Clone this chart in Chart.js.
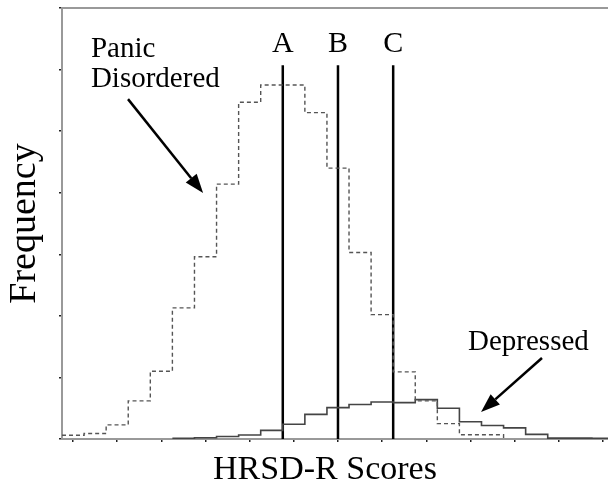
<!DOCTYPE html>
<html>
<head>
<meta charset="utf-8">
<script src="https://cdn.jsdelivr.net/npm/chart.js@4/dist/chart.umd.min.js"></script>
<style>
  html, body { margin: 0; padding: 0; background: #fff; }
  #wrap { width: 608px; height: 485px; position: relative; }
</style>
</head>
<body>
<div id="wrap"><canvas id="histChart"></canvas></div>
<script>
// HRSD-R score bins (bin centres), and the frequencies
const panicBins = [0, 1, 2, 3, 4, 5, 6, 7, 8, 9, 10, 11, 12, 13, 14, 15, 16, 17, 18, 19];
const panicFreq = [6, 9, 23, 62, 110, 213, 296, 414, 547, 575, 575, 530, 440, 303, 202, 109, 62, 25, 7, 7];

const depressedBins = [5, 6, 7, 8, 9, 10, 11, 12, 13, 14, 15, 16, 17, 18, 19, 20, 21, 22, 23, 24];
const depressedFreq = [1, 2, 4, 6.5, 14, 24, 40, 51, 56, 60, 59, 64, 50, 28, 22, 18, 7.5, 1.5, 1.5, 1];

// cut-off lines
const cutoffScores = [9.5, 12, 14.5];
const cutoffLabels = ['A', 'B', 'C'];
const cutoffTop = 607;

const xTickValues = [0, 2, 4, 6, 8, 10, 12, 14, 16, 18, 20, 22, 24];
const yTickValues = [0, 100, 200, 300, 400, 500, 600, 700];

const X_MIN = -0.5, X_MAX = 24.23;
const SERIF = '"Liberation Serif", "Times New Roman", serif';

// turn bin centres into step points at the left edges, closing at the last right edge
function stepPoints(bins, freq, closeAtZero) {
    const pts = bins.map((b, i) => ({ x: b - 0.5, y: freq[i] }));
    const last = bins[bins.length - 1] + 0.5;
    pts.push({ x: last, y: closeAtZero ? 0 : freq[freq.length - 1] });
    return pts;
}

const cutoffSets = cutoffScores.map(s => ({
    data: [{ x: s, y: 0 }, { x: s, y: cutoffTop }],
    borderColor: '#000',
    borderWidth: 2.5,
    pointRadius: 0,
    fill: false
}));

// text and arrows, placed in data units
const notes = {
    panic: { x: 0.81, lines: [[620, 'Panic'], [572, 'Disordered']], size: 29 },
    depressed: { x: 17.89, lines: [[144.5, 'Depressed']], size: 29 },
    xTitle: { x: 11.41, y: -65, size: 34, text: 'HRSD-R Scores' },
    cutoffLabelY: 629,
    arrows: [
        { from: [2.49, 552], to: [5.89, 399.5] },
        { from: [21.24, 131.6], to: [18.48, 43.9] }
    ]
};

const notesPlugin = {
    id: 'notes',
    afterDatasetsDraw(chart) {
        const { ctx, scales: { x, y } } = chart;
        ctx.save();
        ctx.fillStyle = '#000';
        ctx.textBaseline = 'alphabetic';

        [notes.panic, notes.depressed].forEach(n => {
            ctx.font = n.size + 'px ' + SERIF;
            ctx.textAlign = 'left';
            n.lines.forEach(([yv, t]) => ctx.fillText(t, x.getPixelForValue(n.x), y.getPixelForValue(yv)));
        });

        // x axis title (sits a little left of the plot centre in the original)
        ctx.font = notes.xTitle.size + 'px ' + SERIF;
        ctx.textAlign = 'center';
        ctx.fillText(notes.xTitle.text, x.getPixelForValue(notes.xTitle.x), y.getPixelForValue(notes.xTitle.y));

        ctx.font = '30px ' + SERIF;
        cutoffScores.forEach((s, i) => {
            ctx.fillText(cutoffLabels[i], x.getPixelForValue(s), y.getPixelForValue(notes.cutoffLabelY));
        });

        ctx.strokeStyle = '#000';
        ctx.lineWidth = 2.5;
        notes.arrows.forEach(a => {
            const x0 = x.getPixelForValue(a.from[0]), y0 = y.getPixelForValue(a.from[1]);
            const x1 = x.getPixelForValue(a.to[0]), y1 = y.getPixelForValue(a.to[1]);
            const ang = Math.atan2(y1 - y0, x1 - x0);
            const head = 19, half = 7;
            const bx = x1 - head * Math.cos(ang), by = y1 - head * Math.sin(ang);
            ctx.beginPath();
            ctx.moveTo(x0, y0);
            ctx.lineTo(bx, by);
            ctx.stroke();
            ctx.beginPath();
            ctx.moveTo(x1, y1);
            ctx.lineTo(bx + half * Math.sin(ang), by - half * Math.cos(ang));
            ctx.lineTo(bx - half * Math.sin(ang), by + half * Math.cos(ang));
            ctx.closePath();
            ctx.fill();
        });
        ctx.restore();
    }
};

const ctx = document.getElementById('histChart').getContext('2d');
new Chart(ctx, {
    type: 'line',
    data: {
        datasets: [
            {
                label: 'Panic Disordered',
                data: stepPoints(panicBins, panicFreq, true),
                stepped: 'before',
                borderColor: '#555',
                borderWidth: 1.4,
                borderDash: [4, 3],
                pointRadius: 0,
                fill: false
            },
            {
                label: 'Depressed',
                data: stepPoints(depressedBins, depressedFreq, false),
                stepped: 'before',
                borderColor: '#444',
                borderWidth: 1.6,
                pointRadius: 0,
                fill: false
            },
            ...cutoffSets
        ]
    },
    options: {
        responsive: true,
        maintainAspectRatio: false,
        animation: false,
        layout: { padding: { top: 8, right: 0, left: 0, bottom: 43 } },
        plugins: { legend: { display: false }, tooltip: { enabled: false } },
        scales: {
            x: {
                type: 'linear',
                min: X_MIN,
                max: X_MAX,
                afterBuildTicks: s => { s.ticks = xTickValues.map(v => ({ value: v })); },
                ticks: { display: false },
                grid: { drawOnChartArea: false, tickLength: 3, color: '#222', lineWidth: 1.5 },
                border: { color: '#999', width: 2 }
            },
            xTop: {
                type: 'linear',
                position: 'top',
                display: true,
                min: X_MIN,
                max: X_MAX,
                ticks: { display: false },
                grid: { display: false, drawTicks: false },
                border: { color: '#999', width: 2 }
            },
            y: {
                min: 0,
                max: 700,
                afterBuildTicks: s => { s.ticks = yTickValues.map(v => ({ value: v })); },
                ticks: { display: false },
                grid: { drawOnChartArea: false, tickLength: 3, color: '#222', lineWidth: 1.5 },
                border: { color: '#999', width: 2 },
                title: {
                    display: true,
                    text: 'Frequency',
                    color: '#000',
                    font: { family: SERIF, size: 38, lineHeight: 1 },
                    padding: { top: 6, bottom: 15 }
                }
            }
        }
    },
    plugins: [notesPlugin]
});
</script>
</body>
</html>
